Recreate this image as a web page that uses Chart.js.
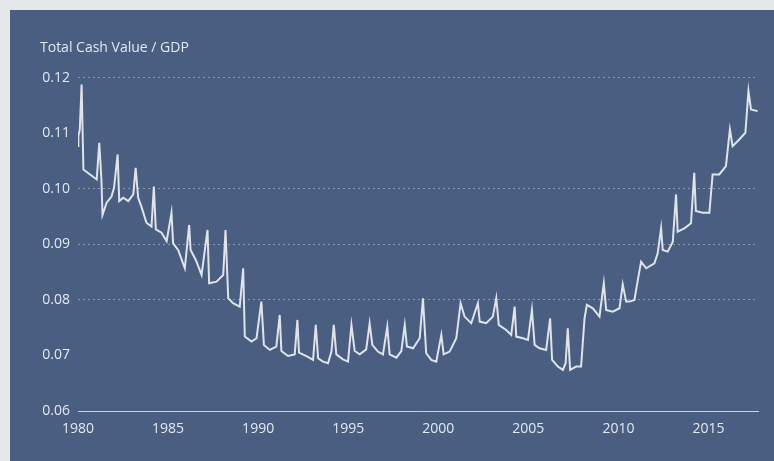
<!DOCTYPE html>
<html>
<head>
<meta charset="utf-8">
<script src="https://cdn.jsdelivr.net/npm/chart.js@4.4.1/dist/chart.umd.min.js"></script>
<style>
    body { margin: 0; background: #e6e7e9; width: 774px; height: 461px; overflow: hidden; }
    #panel { position: absolute; left: 10px; top: 10px; width: 764px; height: 451px; background: #4a5e82; }
</style>
</head>
<body>
<div id="panel"><canvas id="chart" width="764" height="451"></canvas></div>
<script>
// decimal year / ratio pairs
const t1980s = [1980.0, 1980.02, 1980.1, 1980.2, 1980.3, 1980.67, 1981.04, 1981.18, 1981.3, 1981.36, 1981.59, 1981.86, 1982.0, 1982.2, 1982.29, 1982.51, 1982.79, 1983.07, 1983.2, 1983.34, 1983.52, 1983.8, 1984.08, 1984.21, 1984.32, 1984.64, 1984.92, 1985.19, 1985.28, 1985.56, 1985.93, 1986.17, 1986.25, 1986.54, 1986.86, 1987.19, 1987.28, 1987.69, 1988.06, 1988.19, 1988.34, 1988.61, 1988.98, 1989.17, 1989.26, 1989.63, 1989.91];
const v1980s = [0.1077, 0.1095, 0.1107, 0.1188, 0.1035, 0.1026, 0.1017, 0.1083, 0.1017, 0.0953, 0.0975, 0.0986, 0.1002, 0.1062, 0.0978, 0.0984, 0.0978, 0.0990, 0.1038, 0.0984, 0.0968, 0.0939, 0.0932, 0.1004, 0.0927, 0.0921, 0.0906, 0.0957, 0.0902, 0.0890, 0.0857, 0.0935, 0.0890, 0.0872, 0.0845, 0.0926, 0.0830, 0.0833, 0.0845, 0.0926, 0.0803, 0.0794, 0.0788, 0.0857, 0.0734, 0.0725, 0.0731];

const t1990s = [1990.18, 1990.32, 1990.65, 1991.01, 1991.2, 1991.29, 1991.66, 1992.03, 1992.18, 1992.27, 1992.68, 1993.05, 1993.2, 1993.33, 1993.6, 1993.88, 1994.07, 1994.2, 1994.34, 1994.71, 1994.99, 1995.18, 1995.36, 1995.64, 1996.0, 1996.19, 1996.34, 1996.65, 1996.93, 1997.17, 1997.3, 1997.67, 1997.95, 1998.14, 1998.26, 1998.6, 1998.97, 1999.15, 1999.33, 1999.61, 1999.89];
const v1990s = [0.0797, 0.0719, 0.0710, 0.0716, 0.0773, 0.0708, 0.0699, 0.0702, 0.0764, 0.0705, 0.0699, 0.0692, 0.0755, 0.0695, 0.0689, 0.0686, 0.0707, 0.0755, 0.0702, 0.0693, 0.0689, 0.0755, 0.0708, 0.0702, 0.0711, 0.0758, 0.0719, 0.0707, 0.0702, 0.0752, 0.0702, 0.0696, 0.0708, 0.0755, 0.0716, 0.0713, 0.0731, 0.0803, 0.0704, 0.0692, 0.0689];

const t2000s = [2000.17, 2000.3, 2000.63, 2001.0, 2001.24, 2001.46, 2001.83, 2002.2, 2002.3, 2002.66, 2003.03, 2003.22, 2003.36, 2003.77, 2004.05, 2004.24, 2004.33, 2004.7, 2004.98, 2005.2, 2005.35, 2005.62, 2005.99, 2006.21, 2006.32, 2006.64, 2006.92, 2007.07, 2007.19, 2007.32, 2007.65, 2007.93, 2008.12, 2008.25, 2008.58, 2008.95, 2009.19, 2009.32, 2009.69];
const v2000s = [0.0737, 0.0702, 0.0707, 0.0731, 0.0794, 0.0770, 0.0758, 0.0794, 0.0761, 0.0758, 0.0770, 0.0803, 0.0755, 0.0746, 0.0737, 0.0788, 0.0734, 0.0731, 0.0728, 0.0782, 0.0719, 0.0713, 0.0710, 0.0767, 0.0692, 0.0680, 0.0674, 0.0686, 0.0749, 0.0674, 0.0680, 0.0680, 0.0767, 0.0791, 0.0785, 0.0770, 0.0830, 0.0782, 0.0779];

const t2010s = [2010.06, 2010.24, 2010.43, 2010.62, 2010.89, 2011.08, 2011.26, 2011.54, 2012.0, 2012.18, 2012.37, 2012.46, 2012.74, 2013.02, 2013.2, 2013.29, 2013.66, 2014.03, 2014.21, 2014.3, 2014.67, 2015.05, 2015.23, 2015.6, 2015.97, 2016.19, 2016.34, 2016.71, 2017.05, 2017.22, 2017.36, 2017.73];
const v2010s = [0.0785, 0.0828, 0.0797, 0.0797, 0.0800, 0.0836, 0.0869, 0.0857, 0.0866, 0.0884, 0.0929, 0.0890, 0.0887, 0.0905, 0.0990, 0.0923, 0.0929, 0.0938, 0.1029, 0.0960, 0.0957, 0.0957, 0.1026, 0.1026, 0.1041, 0.1107, 0.1077, 0.1089, 0.1101, 0.1176, 0.1143, 0.1140];

const yearTicks = [1980, 1985, 1990, 1995, 2000, 2005, 2010, 2015];
const hiddenGrid = [6, 7, 11]; // gridlines (in hundredths) that do not show in the picture

const dates = t1980s.concat(t1990s, t2000s, t2010s);
const ratios = v1980s.concat(v1990s, v2000s, v2010s);
const points = dates.map((t, i) => ({ x: t, y: ratios[i] }));

const textColor = '#e4e8ef';
const font = { family: "'Open Sans', 'Noto Sans', sans-serif", size: 14, weight: 'normal' };

new Chart(document.getElementById('chart'), {
    type: 'line',
    data: {
        datasets: [{
            data: points,
            borderColor: '#dfe3ea',
            borderWidth: 2,
            pointRadius: 0,
            tension: 0,
            fill: false
        }]
    },
    options: {
        responsive: false,
        animation: false,
        layout: { padding: { left: 30, right: 16, top: 0, bottom: 0 } },
        plugins: {
            legend: { display: false },
            tooltip: { enabled: false },
            title: {
                display: true,
                text: 'Total Cash Value / GDP',
                align: 'start',
                color: textColor,
                font: font,
                padding: { top: 30, bottom: 21 }
            }
        },
        scales: {
            x: {
                type: 'linear',
                min: 1980,
                max: 2017.75,
                afterBuildTicks: scale => {
                    scale.ticks = yearTicks.map(v => ({ value: v }));
                },
                afterFit: scale => { scale.height = 50; },
                grid: { display: false, drawTicks: false },
                border: { display: true, color: 'rgba(225,230,238,0.85)', width: 1 },
                ticks: {
                    color: textColor,
                    font: font,
                    padding: 10,
                    maxRotation: 0,
                    callback: v => String(v)
                }
            },
            y: {
                min: 0.06,
                max: 0.12,
                afterFit: scale => { scale.width = 38; },
                border: { display: false, dash: [2, 3] },
                grid: {
                    drawTicks: false,
                    lineWidth: 1,
                    color: ctx => hiddenGrid.includes(Math.round(ctx.tick.value * 100)) ? 'rgba(0,0,0,0)' : 'rgba(215,222,234,0.45)'
                },
                ticks: {
                    stepSize: 0.01,
                    color: textColor,
                    font: font,
                    padding: 8,
                    callback: v => v.toFixed(2)
                }
            }
        }
    }
});
</script>
</body>
</html>
